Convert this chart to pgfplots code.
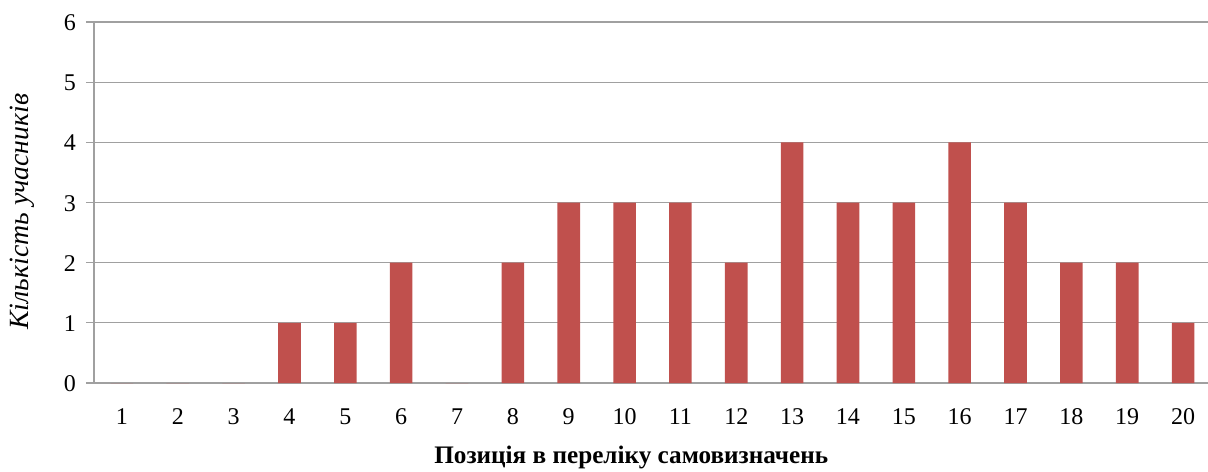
\documentclass[border=0pt]{standalone}
\usepackage{fontspec}
\setmainfont{Liberation Serif}
\usepackage{pgfplots}
\pgfplotsset{compat=1.18}
\usetikzlibrary{calc}
\definecolor{barred}{HTML}{C0504D}
\definecolor{gridgray}{HTML}{A0A0A0}
\pgfplotstableread{
x y
1 0
2 0
3 0
4 1
5 1
6 2
7 0
8 2
9 3
10 3
11 3
12 2
13 4
14 3
15 3
16 4
17 3
18 2
19 2
20 1
}\datatable
\begin{document}
\begin{tikzpicture}[x=0.5pt,y=0.5pt]
\useasboundingbox (0,0) rectangle (1208,471);
\begin{axis}[
  at={(47pt,44pt)}, anchor=south west,
  scale only axis, width=558.5pt, height=180.5pt,
  xmin=0.5, xmax=20.5, ymin=0, ymax=6,
  axis x line*=bottom, axis y line*=left,
  axis line style={gridgray, line width=0.6pt, -},
  xtick={1,...,20}, ytick={0,...,6},
  major x tick style={draw=none},
  extra x ticks={0.5,1.5,...,20.5},
  extra x tick labels={},
  extra x tick style={tick style={gridgray, line width=0.6pt}, major tick length=4pt, grid=none},
  ytick style={gridgray, line width=0.6pt},
  major tick length=4pt,
  tick align=outside,
  ymajorgrids, grid style={gridgray, line width=0.6pt},
  /pgf/number format/assume math mode=true,
  ticklabel style={font=\fontsize{12}{14}\selectfont},
  xticklabel style={yshift=-4.5pt, text height=8.6pt, text depth=0pt},
  yticklabel style={xshift=-1.5pt, text height=8.6pt, text depth=0pt},
  xlabel={\textbf{Позиція в переліку самовизначень}},
  xlabel style={at={($(rel axis cs:0.481,0)+(0,-37pt)$)}, anchor=center, font=\fontsize{12.6}{14}\selectfont},
  ylabel={\textit{Кількість учасників}},
  ylabel style={at={($(rel axis cs:0,0.475)+(-36pt,0)$)}, anchor=center, rotate=0, font=\fontsize{13.9}{15}\selectfont},
]
\addplot[ybar, bar width=11.3pt, fill=barred, draw=none] table[x=x,y=y] {\datatable};
\end{axis}
\end{tikzpicture}
\end{document}
